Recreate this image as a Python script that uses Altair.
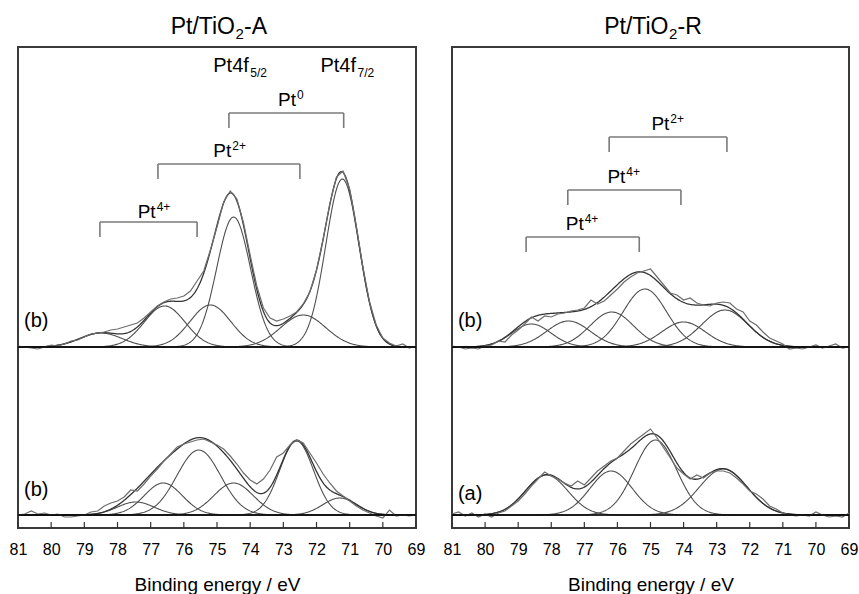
import altair as alt
import numpy as np
import pandas as pd

# ---------------- data ----------------
# measured spectra, binding energy 81.0 -> 69.0 eV every 0.2 eV (intensity, a.u.)
energy = [round(81.0 - 0.2 * i, 1) for i in range(61)]

raw_A_top = [1, 0, -1, -2, 0,
             2, 1, 3, 6, 7,
             10, 13, 14, 15, 17,
             18, 20, 22, 24, 29,
             35, 41, 45, 48, 49,
             51, 56, 66, 76, 97,
             120, 145, 156, 148, 124,
             92, 61, 39, 29, 26,
             28, 31, 35, 43, 55,
             77, 108, 143, 170, 176,
             158, 121, 80, 45, 22,
             9, 4, 1, 3, -1,
             1]
raw_A_bot = [0, 1, 4, 1, 2,
             0, 1, -2, -2, -1,
             0, 3, 4, 9, 12,
             14, 18, 25, 24, 31,
             39, 46, 54, 61, 68,
             71, 73, 75, 76, 73,
             70, 66, 59, 51, 42,
             35, 31, 36, 45, 58,
             62, 70, 75, 72, 62,
             52, 41, 32, 24, 19,
             14, 9, 5, 2, -1,
             -3, 5, -1, 0, -1,
             0]
raw_R_top = [1, 0, -2, -1, -2,
             1, 2, 6, 5, 12,
             17, 23, 30, 26, 31,
             30, 33, 34, 36, 37,
             39, 47, 43, 46, 52,
             58, 65, 70, 74, 76,
             78, 70, 62, 54, 52,
             47, 49, 44, 42, 41,
             44, 45, 44, 38, 35,
             26, 22, 15, 9, 6,
             3, -2, -1, -2, 0,
             2, -1, 1, 3, -1,
             0]
raw_R_bot = [1, 3, -1, 2, -2,
             1, -2, 2, 4, 9,
             14, 21, 29, 36, 43,
             39, 36, 32, 29, 34,
             30, 37, 44, 49, 54,
             57, 64, 71, 76, 81,
             86, 77, 67, 57, 47,
             41, 36, 40, 37, 42,
             44, 44, 42, 37, 31,
             24, 21, 16, 9, 6,
             2, 0, -1, 0, -1,
             3, 0, -2, -1, -2,
             2]

# fitted Gaussian components: centre (eV), height (a.u.), FWHM (eV)
A_top_center = [78.5, 76.58, 75.2, 74.5, 72.4, 71.22]
A_top_height = [14, 41, 42, 130, 32, 168]
A_top_fwhm = [1.5, 1.45, 1.45, 1.2, 1.6, 1.18]

A_bot_center = [77.45, 76.62, 75.55, 74.5, 72.6, 71.3]
A_bot_height = [13, 32, 65, 32, 74, 17]
A_bot_fwhm = [1.3, 1.35, 1.55, 1.4, 1.2, 1.2]

R_top_center = [78.6, 77.48, 76.17, 75.17, 74.0, 72.75]
R_top_height = [23, 26, 35, 58, 25, 37]
R_top_fwhm = [1.4, 1.55, 1.55, 1.55, 1.55, 1.65]

R_bot_center = [78.14, 76.19, 74.85, 72.8]
R_bot_height = [40, 44, 75, 46]
R_bot_fwhm = [1.5, 1.5, 1.5, 1.7]

x_ticks = list(range(69, 82))

# doublet brackets: legs (eV), label centre (eV), oxidation state
A_br_left = [78.53, 76.78, 74.64]
A_br_right = [75.6, 72.5, 71.18]
A_br_label = [76.88, 74.6, 72.77]
A_br_sup = ["4+", "2+", "0"]

R_br_left = [78.76, 77.5, 76.25]
R_br_right = [75.34, 74.08, 72.69]
R_br_label = [77.05, 75.79, 74.46]
R_br_sup = ["4+", "4+", "2+"]

# spin-orbit labels (left panel)
so_pos = [74.04, 70.81]
so_sub = ["5/2", "7/2"]

# ---------------- layout ----------------
PLOT_H = 481
UPPER, LOWER = 181, 13          # vertical offsets of the two stacked spectra
A_br_top = [306, 364, 415]
A_lab_y = [310, 371, 422]
R_br_top = [291, 338, 391]
R_lab_y = [298, 345, 398]
LEG = 15
FONT = "Liberation Sans"

fine = np.linspace(81.0, 69.0, 481)
xs = alt.Scale(domain=[69, 81], reverse=True, nice=False, zero=False)
ys = alt.Scale(domain=[0, PLOT_H], nice=False, zero=False)
XAXIS = alt.Axis(values=x_ticks, format="d", ticks=False, tickSize=0, domain=False,
                 grid=False, labelFontSize=16, labelPadding=13, labelColor="black",
                 labelFlush=False, labelOverlap=False,
                 labelFont=FONT, title="Binding energy / eV", titleFontSize=19,
                 titleFontWeight="normal", titleColor="black", titleFont=FONT,
                 titlePadding=18)
XN = dict(scale=xs, axis=XAXIS)
YN = dict(scale=ys, axis=None)


def curves(centers, heights, fwhms, offset, tag):
    rows = []
    env = np.zeros_like(fine)
    for k, (c, h, w) in enumerate(zip(centers, heights, fwhms)):
        s = w / 2.3548
        g = h * np.exp(-(fine - c) ** 2 / (2 * s * s))
        env += g
        rows.append(pd.DataFrame({"e": fine, "v": g + offset, "sid": f"{tag}{k}"}))
    comp = pd.concat(rows)
    envdf = pd.DataFrame({"e": fine, "v": env + offset, "sid": tag})
    return comp, envdf


def panel(raw_top, raw_bot, top_fit, bot_fit, br_l, br_r, br_lab, br_sup,
          br_top, lab_y, tag_top, tag_bot, suffix, width, extra):
    ct, et = curves(*top_fit, UPPER, "t")
    cb, eb = curves(*bot_fit, LOWER, "b")
    comp = pd.concat([ct, cb])
    env = pd.concat([et, eb])
    raw = pd.concat([
        pd.DataFrame({"e": energy, "v": np.array(raw_top) + UPPER, "sid": "t"}),
        pd.DataFrame({"e": energy, "v": np.array(raw_bot) + LOWER, "sid": "b"}),
    ])
    l_comp = alt.Chart(comp).mark_line(color="#4f4f4f", strokeWidth=1.1).encode(
        x=alt.X("e:Q", **XN), y=alt.Y("v:Q", **YN), detail="sid:N")
    l_env = alt.Chart(env).mark_line(color="#333333", strokeWidth=1.3).encode(
        x=alt.X("e:Q", **XN), y=alt.Y("v:Q", **YN), detail="sid:N")
    l_raw = alt.Chart(raw).mark_line(color="#6e6e6e", strokeWidth=1.2).encode(
        x=alt.X("e:Q", **XN), y=alt.Y("v:Q", **YN), detail="sid:N")
    base = alt.Chart(pd.DataFrame({"v": [UPPER, LOWER]})).mark_rule(
        color="black", strokeWidth=1.6).encode(y=alt.Y("v:Q", **YN))
    brh = pd.DataFrame({"l": br_l, "r": br_r, "top": br_top})
    l_brh = alt.Chart(brh).mark_rule(color="#7a7a7a", strokeWidth=1.6).encode(
        x=alt.X("l:Q", **XN), x2="r:Q", y=alt.Y("top:Q", **YN))
    legs = pd.DataFrame({"l": list(br_l) + list(br_r),
                         "top": list(br_top) * 2,
                         "bot": [t - LEG for t in br_top] * 2})
    l_legs = alt.Chart(legs).mark_rule(color="#7a7a7a", strokeWidth=1.6).encode(
        x=alt.X("l:Q", **XN), y=alt.Y("top:Q", **YN), y2="bot:Q")
    lab = pd.DataFrame({"e": br_lab, "y": lab_y, "sup": br_sup})
    lab["ys"] = lab["y"] + 7.5
    lab2 = lab[lab["sup"].str.len() == 2]
    lab1 = lab[lab["sup"].str.len() == 1]
    texts = []
    for d, dx in ((lab2, 1), (lab1, 5)):
        if len(d) == 0:
            continue
        texts.append(alt.Chart(d).mark_text(align="right", baseline="alphabetic", fontSize=19,
                                            font=FONT, dx=dx, color="black").encode(
            x=alt.X("e:Q", **XN), y=alt.Y("y:Q", **YN), text=alt.value("Pt")))
        texts.append(alt.Chart(d).mark_text(align="left", baseline="alphabetic", fontSize=12,
                                            font=FONT, dx=dx + 1, color="black").encode(
            x=alt.X("e:Q", **XN), y=alt.Y("ys:Q", **YN), text="sup:N"))
    tags = pd.DataFrame({"e": [80.82, 80.82], "y": [207, 38 if tag_bot == "(b)" else 34],
                         "t": [tag_top, tag_bot]})
    texts.append(alt.Chart(tags).mark_text(align="left", baseline="middle", fontSize=20,
                                           font=FONT, color="black").encode(
        x=alt.X("e:Q", **XN), y=alt.Y("y:Q", **YN), text="t:N"))
    c = width / 2
    one = pd.DataFrame({"a": [0]})
    for txt, xpx, al, fs, ypx in (("Pt/TiO", c + 18, "right", 23, -13),
                                  ("2", c + 18.5, "left", 15, -8),
                                  ("-" + suffix, c + 27, "left", 23, -13)):
        texts.append(alt.Chart(one).mark_text(align=al, baseline="alphabetic", fontSize=fs,
                                              font=FONT, color="black").encode(
            x=alt.value(xpx), y=alt.value(ypx), text=alt.value(txt)))
    ticks = alt.Chart(pd.DataFrame({"e": x_ticks})).mark_rule(
        color="#333333", strokeWidth=1.2).encode(
        x=alt.X("e:Q", **XN), y=alt.value(PLOT_H), y2=alt.value(PLOT_H - 6))
    layers = [l_comp, l_env, l_raw, base, l_brh, l_legs, ticks] + texts + extra
    return alt.layer(*layers).properties(width=width, height=PLOT_H)


one = pd.DataFrame({"a": [0]})
# invisible anchor fixing the canvas origin 17 px left / 46 px above the left plot
anchor = alt.Chart(one).mark_rule(strokeOpacity=0, strokeWidth=0.01).encode(
    x=alt.value(-17), x2=alt.value(0), y=alt.value(-46))

so = pd.DataFrame({"e": so_pos, "sub": so_sub})
so_main = alt.Chart(so).mark_text(align="right", baseline="alphabetic", fontSize=20,
                                  font=FONT, color="black").encode(
    x=alt.X("e:Q", **XN), y=alt.value(PLOT_H - 456), text=alt.value("Pt4f"))
so_lab = alt.Chart(so).mark_text(align="left", baseline="alphabetic", fontSize=12,
                                 font=FONT, dx=1.5, color="black").encode(
    x=alt.X("e:Q", **XN), y=alt.value(PLOT_H - 451), text="sub:N")

left = panel(raw_A_top, raw_A_bot,
             (A_top_center, A_top_height, A_top_fwhm),
             (A_bot_center, A_bot_height, A_bot_fwhm),
             A_br_left, A_br_right, A_br_label, A_br_sup, A_br_top, A_lab_y,
             "(b)", "(b)", "A", 398, [so_main, so_lab, anchor])

right = panel(raw_R_top, raw_R_bot,
              (R_top_center, R_top_height, R_top_fwhm),
              (R_bot_center, R_bot_height, R_bot_fwhm),
              R_br_left, R_br_right, R_br_label, R_br_sup, R_br_top, R_lab_y,
              "(b)", "(a)", "R", 397, [])

chart = alt.hconcat(left, right, spacing=36, bounds="flush").properties(
    padding=0,
).configure(font=FONT).configure_view(stroke="#3a3a3a", strokeWidth=2)

chart.save("out.html", embed_options={"renderer": "svg", "actions": False})
